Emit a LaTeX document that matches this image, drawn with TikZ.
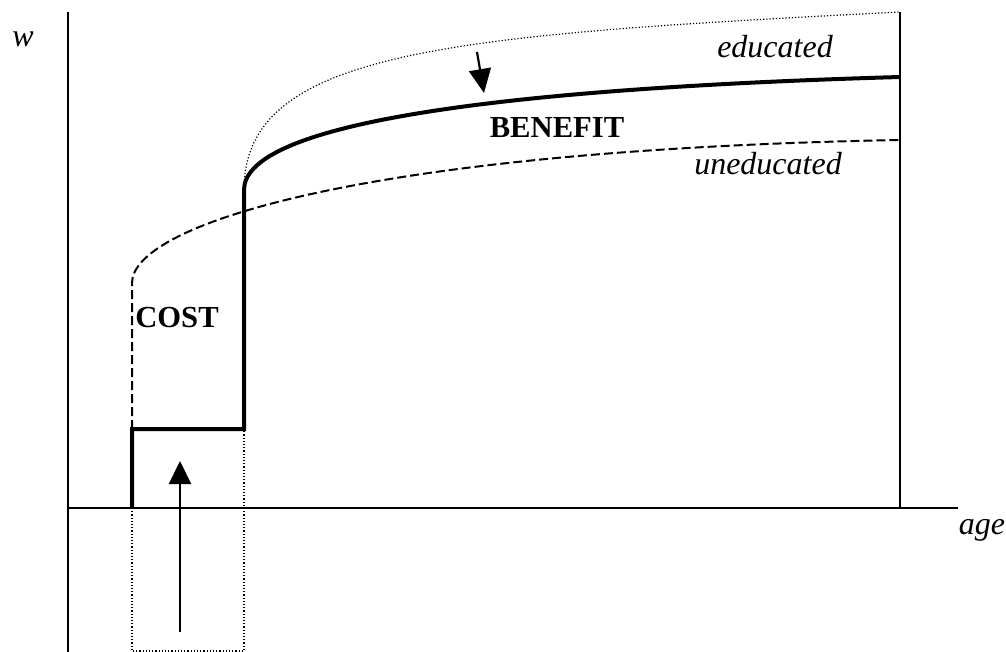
\documentclass[tikz,border=0pt]{standalone}
\usepackage{fontspec}
\setmainfont{Liberation Serif}
\usetikzlibrary{arrows.meta}
\begin{document}
\begin{tikzpicture}[x=0.5pt,y=-0.5pt,
  axisline/.style={line width=1pt,black},
  thickline/.style={line width=2pt,black,line join=miter},
  dashline/.style={line width=1pt,dash pattern=on 4.5pt off 2pt},
  dotline/.style={line width=0.6pt,dash pattern=on 0.6pt off 1pt},
  bigarrow/.style={line width=1.1pt,-{Triangle[width=11pt,length=11.5pt]}},
  itlabel/.style={font=\fontsize{16pt}{18pt}\selectfont\itshape,anchor=base,inner sep=0pt},
  bflabel/.style={font=\fontsize{15.3pt}{17pt}\selectfont\bfseries,anchor=base,inner sep=0pt}]
\useasboundingbox (0,0) rectangle (1006,652);
% coordinates
\coordinate (ytop) at (68,12);
\coordinate (ybot) at (68,652);
\coordinate (xl) at (68,508);
\coordinate (xr) at (958,508);
\coordinate (rtop) at (900,12);
\coordinate (rbot) at (900,508);
\coordinate (s0) at (132,508);
\coordinate (s1) at (132,429);
\coordinate (s2) at (244,429);
\coordinate (s3) at (244,190);
\coordinate (eend) at (900,77);
\coordinate (u0) at (132,283);
\coordinate (uend) at (900,140);
\coordinate (dend) at (900,12);
\coordinate (b1) at (132,651);
\coordinate (b2) at (244,651);
\coordinate (a1s) at (180,632);
\coordinate (a1e) at (180,461);
\coordinate (a2s) at (477,52);
\coordinate (a2e) at (484,93);
% axes
\draw[axisline] (ytop) -- (ybot);
\draw[axisline] (xl) -- (xr);
\draw[line width=0.9pt] (rtop) -- (rbot);
% dotted box below
\draw[dotline] (s0) -- (b1) -- (b2) -- (s2);
% educated dotted
\draw[dotline] (s3) .. controls (244,50) and (450,35) .. (dend);
% uneducated dashed
\draw[dashline] (s1) -- (u0) .. controls (132,225) and (360,150) .. (uend);
% actual path
\draw[thickline] (s0) -- (s1) -- (s2) -- (s3) .. controls (244,130) and (450,90) .. (eend);
% arrows
\draw[bigarrow] (a1s) -- (a1e);
\draw[line width=1.1pt,-{Triangle[width=11pt,length=12pt]}] (a2s) -- (a2e);
% labels
\node[itlabel] (w) at (23,47) {w};
\node[itlabel] (age) at (982,534) {age};
\node[itlabel] (edu) at (775,58) {educated};
\node[itlabel] (unedu) at (768,175) {uneducated};
\node[bflabel] (ben) at (557,138) {BENEFIT};
\node[bflabel] (cost) at (177,328) {COST};
\end{tikzpicture}
\end{document}
